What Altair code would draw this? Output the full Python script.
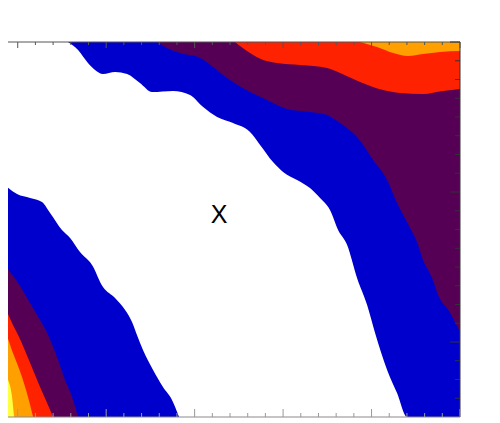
import altair as alt
import pandas as pd

# ---------------- contour band boundaries (data units) ----------------
# upper-right region: band fills from boundary up to the top of the plot
b1_x = [3.84, 4.41, 4.97, 5.37, 5.82, 6.50, 7.18, 7.91, 8.59, 9.78, 10.74, 11.48, 12.27, 13.17,
        14.13, 14.70, 15.43, 16.00, 16.79, 17.52, 18.09, 18.65, 19.11, 19.62, 20.18, 20.75,
        21.20, 21.88, 22.44, 23.01, 26.00]
b1_y = [20.00, 19.57, 18.88, 18.51, 18.29, 18.40, 18.29, 17.81, 17.33, 17.39, 17.17, 16.53, 16.00,
        15.68, 15.20, 14.51, 13.60, 13.07, 12.64, 12.21, 11.68, 11.04, 9.97, 9.17, 7.41, 5.97,
        4.48, 2.51, 1.28, 0.00, 0.00]

b2_x = [8.88, 9.44, 10.18, 11.31, 12.04, 13.00, 14.13, 15.09, 16.22, 17.52, 18.49, 19.22, 20.18,
        21.09, 21.88, 22.44, 23.18, 23.57, 23.91, 24.42, 24.76, 25.44, 26.00]
b2_y = [20.00, 19.68, 19.41, 19.15, 18.67, 17.97, 17.33, 16.91, 16.43, 16.27, 16.11, 15.68, 14.93,
        13.71, 12.64, 11.41, 10.08, 9.33, 8.37, 7.41, 6.51, 5.55, 4.53]

b3_x = [13.28, 14.13, 14.87, 15.66, 16.96, 18.49, 19.22, 20.35, 21.65, 22.61, 23.91, 25.04, 26.00]
b3_y = [20.00, 19.41, 19.04, 18.88, 18.77, 18.61, 18.35, 17.87, 17.44, 17.28, 17.23, 17.39, 17.49]

b4_x = [20.35, 21.31, 22.22, 23.06, 23.91, 24.87, 26.00]
b4_y = [20.00, 19.73, 19.41, 19.25, 19.36, 19.47, 19.52]

# lower-left region: band fills from the bottom of the plot up to boundary
l1_x = [0.00, 0.40, 0.96, 1.70, 2.37, 2.83, 3.50, 3.96, 4.52, 5.20, 5.82, 6.50, 7.07, 7.46, 7.74,
        8.08, 8.65, 9.21, 9.72, 10.12]
l1_y = [12.64, 12.27, 11.89, 11.68, 11.47, 10.88, 9.97, 9.55, 8.80, 8.11, 6.93, 6.35, 5.71, 5.07,
        4.37, 3.57, 2.51, 1.60, 0.91, 0.00]

l2_x = [0.00, 0.57, 1.02, 1.53, 2.09, 2.66, 3.22, 3.67, 4.07, 4.41]
l2_y = [8.32, 7.73, 7.15, 6.35, 5.44, 4.48, 3.20, 1.97, 1.07, 0.00]

l3_x = [0.00, 0.40, 0.73, 1.02, 1.70, 2.26, 2.66, 3.00]
l3_y = [6.40, 5.60, 4.91, 4.37, 2.88, 1.60, 0.75, 0.00]

l4_x = [0.00, 0.28, 0.73, 1.24, 1.58, 1.87]
l4_y = [4.75, 4.53, 3.41, 2.13, 1.07, 0.00]

l5_x = [0.00, 0.40, 0.68, 0.79]
l5_y = [3.04, 2.13, 1.07, 0.00]

band_colors = ["#0000CC", "#550055", "#FF2200", "#FFA000", "#FFFF44"]

# ---------------- ticks and annotation ----------------
x_minor_ticks = [0, 2, 3, 4, 5, 7, 8, 9, 10, 12, 13, 14, 15, 17, 18, 19, 20, 22, 23, 24, 25]
x_major_ticks = [1, 6, 11, 16, 21, 26]
y_minor_ticks = [1, 2, 3, 5, 6, 7, 8, 9, 10, 11, 13, 14, 15, 16, 17, 18, 19]
y_major_ticks = [4, 12, 20]

label_text = ["X"]
label_x = [12.38]
label_y = [10.77]

X_MIN, X_MAX = 0.45, 26.0
Y_MIN, Y_MAX = 0.0, 20.0

xs = alt.Scale(domain=[X_MIN, X_MAX], nice=False, zero=False)
ys = alt.Scale(domain=[Y_MIN, Y_MAX], nice=False, zero=False)


def band(bx, by, edge, color):
    df = pd.DataFrame({"x": bx, "y": by, "edge": [edge] * len(bx)})
    return alt.Chart(df).mark_area(color=color, interpolate="monotone", clip=True,
                                   orient="vertical").encode(
        x=alt.X("x:Q", scale=xs, axis=None),
        y=alt.Y("y:Q", scale=ys, axis=None),
        y2="edge:Q",
    )


layers = [
    band(b1_x, b1_y, Y_MAX, band_colors[0]),
    band(b2_x, b2_y, Y_MAX, band_colors[1]),
    band(b3_x, b3_y, Y_MAX, band_colors[2]),
    band(b4_x, b4_y, Y_MAX, band_colors[3]),
    band(l1_x, l1_y, Y_MIN, band_colors[0]),
    band(l2_x, l2_y, Y_MIN, band_colors[1]),
    band(l3_x, l3_y, Y_MIN, band_colors[2]),
    band(l4_x, l4_y, Y_MIN, band_colors[3]),
    band(l5_x, l5_y, Y_MIN, band_colors[4]),
]

# frame lines
hframe = pd.DataFrame({"x": [X_MIN, X_MIN], "x2": [X_MAX, X_MAX], "y": [Y_MAX, Y_MIN],
                       "c": ["top", "bottom"]})
vframe = pd.DataFrame({"x": [X_MAX], "y": [Y_MIN], "y2": [Y_MAX]})
layers.append(alt.Chart(hframe).mark_rule(strokeWidth=1).encode(
    x=alt.X("x:Q", scale=xs, axis=None), x2="x2:Q",
    y=alt.Y("y:Q", scale=ys, axis=None),
    color=alt.Color("c:N", scale=alt.Scale(domain=["top", "bottom"],
                                           range=["#555555", "#8a8a8a"]), legend=None)))
layers.append(alt.Chart(vframe).mark_rule(strokeWidth=1, color="#333333").encode(
    x=alt.X("x:Q", scale=xs, axis=None),
    y=alt.Y("y:Q", scale=ys, axis=None), y2="y2:Q"))

W, H = 452, 375


def xticks(vals, color, y_a, y_b):
    df = pd.DataFrame({"t": [v for v in vals if v >= X_MIN]})
    return alt.Chart(df).mark_rule(color=color, strokeWidth=1).encode(
        x=alt.X("t:Q", scale=xs, axis=None), y=alt.value(y_a), y2=alt.value(y_b))


def yticks(vals, color, x_a, x_b):
    df = pd.DataFrame({"t": vals})
    return alt.Chart(df).mark_rule(color=color, strokeWidth=1).encode(
        y=alt.Y("t:Q", scale=ys, axis=None), x=alt.value(x_a), x2=alt.value(x_b))


layers += [
    xticks(x_minor_ticks, "#555555", 0, 3),
    xticks(x_major_ticks, "#555555", 0, 6),
    xticks(x_minor_ticks, "#999999", H, H - 4),
    xticks(x_major_ticks, "#999999", H, H - 8),
    yticks(y_minor_ticks, "#333333", W, W - 5),
    yticks(y_major_ticks, "#333333", W, W - 10),
]

labels = pd.DataFrame({"text": label_text, "x": label_x, "y": label_y})
layers.append(alt.Chart(labels).mark_text(font="Liberation Sans", fontSize=25, color="#000000",
                                          align="center", baseline="middle").encode(
    x=alt.X("x:Q", scale=xs, axis=None), y=alt.Y("y:Q", scale=ys, axis=None), text="text:N"))

chart = alt.layer(*layers).properties(
    width=W, height=H,
    padding={"left": 0, "top": 34, "right": 32, "bottom": 6},
    autosize=alt.AutoSizeParams(type="none"),
    background="white",
).configure_view(stroke=None)

chart.save("out.html", embed_options={"renderer": "svg", "actions": False})
